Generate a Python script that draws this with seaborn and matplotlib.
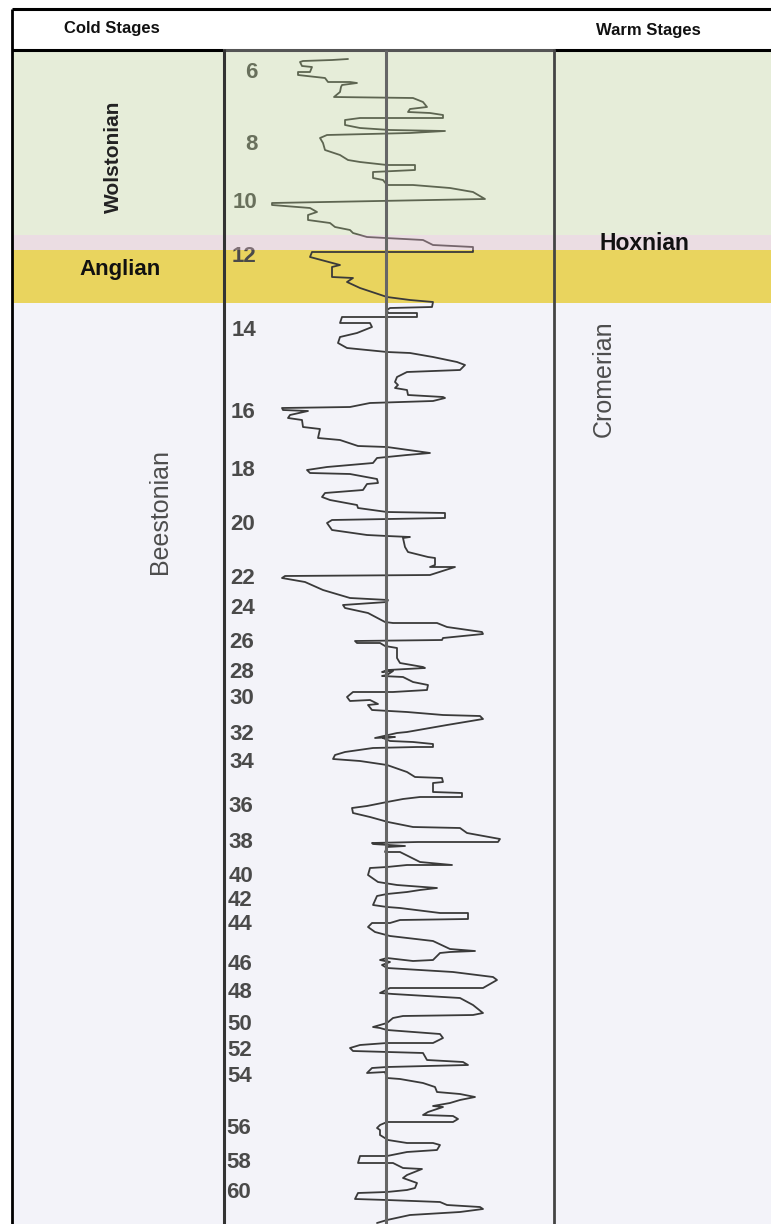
import numpy as np
import pandas as pd
import matplotlib
matplotlib.use("Agg")
import matplotlib.pyplot as plt
import seaborn as sns

# ---------------- data ----------------
# oxygen-isotope style curve: (depth, value) pairs; value = offset from the centre line
wolstonian_depth = [59, 60, 61, 62, 66, 67, 72, 72, 75, 78, 82, 82, 83, 85, 87, 92, 97, 98, 102, 107, 109, 112,
                    113, 115, 118, 118, 120, 125, 128, 130, 131, 133, 135, 138, 143, 150, 155, 160, 162, 165, 165,
                    170, 172, 178, 180, 185, 185, 188, 192, 199]
wolstonian_x = [348, 332, 303, 300, 302, 312, 310, 298, 298, 325, 328, 350, 357, 342, 341, 340, 334, 413, 423, 427,
                410, 408, 430, 443, 443, 360, 345, 345, 360, 390, 445, 410, 327, 320, 323, 325, 340, 348, 360, 387,
                415, 415, 373, 373, 383, 387, 413, 450, 473, 485]

anglian_depth = [203, 205, 208, 212, 215, 220, 223, 227, 230, 233, 237, 238, 240, 245, 247, 252, 252, 257, 265, 267,
                 277, 278, 282, 288, 297, 300, 302, 307, 308, 310, 313, 313, 317, 317, 323, 323, 327, 333]
anglian_x = [272, 272, 310, 317, 308, 308, 330, 335, 350, 353, 367, 385, 423, 433, 473, 473, 312, 310, 340, 332,
             332, 353, 347, 360, 387, 410, 433, 432, 390, 387, 388, 417, 417, 342, 340, 370, 372, 357]

cromer_a_depth = [337, 343, 348, 352, 353, 357, 362, 365, 370, 372, 377, 382, 385, 388, 390, 395, 397, 398, 401, 402,
                  403, 407, 408, 410, 411, 415, 418, 420, 427, 429, 438, 440, 446, 447, 453, 455, 458, 463, 467, 470]
cromer_a_x = [340, 338, 347, 387, 410, 433, 457, 465, 460, 407, 397, 395, 398, 395, 407, 408, 443, 445, 433, 403,
              370, 350, 282, 283, 308, 290, 288, 302, 303, 320, 318, 340, 358, 387, 430, 407, 377, 373, 327, 307]

cromer_b_depth = [473, 474, 479, 483, 484, 490, 493, 497, 500, 505, 508, 512, 513, 518, 520, 523, 530, 535, 536, 537,
                  538, 547, 552, 557, 558, 565, 567, 567, 575, 576, 578, 582, 590, 598, 600, 602, 605, 608]
cromer_b_x = [310, 350, 377, 378, 367, 363, 325, 322, 330, 357, 358, 387, 445, 445, 332, 327, 332, 367, 387, 410,
              403, 405, 408, 428, 435, 435, 430, 455, 430, 285, 282, 305, 323, 350, 388, 387, 343, 345]

cromer_c_depth = [613, 622, 623, 623, 627, 632, 634, 638, 640, 641, 643, 643, 646, 648, 658, 663, 667, 668, 670, 672,
                  671, 675, 676, 677, 682, 685, 690, 692, 692, 697, 701, 700, 704, 705, 710, 712, 715, 716, 719, 725,
                  732, 733, 738, 737, 738, 741, 742, 744, 747, 747, 748]
cromer_c_x = [368, 385, 393, 437, 447, 482, 483, 443, 442, 355, 357, 380, 385, 397, 397, 400, 423, 425, 388, 382,
              393, 387, 382, 403, 413, 428, 427, 393, 353, 347, 350, 370, 378, 368, 372, 407, 443, 480, 483, 447,
              407, 397, 375, 395, 383, 390, 413, 433, 433, 417, 373]

cromer_d_depth = [752, 755, 759, 761, 765, 772, 777, 778, 782, 783, 792, 793, 797, 797, 799, 802, 806, 808, 813, 817,
                  822, 827, 828, 833, 839, 842, 842, 843, 844, 846, 847, 852, 852, 862, 865, 865, 867, 868, 875, 882,
                  885, 888, 890, 892, 894]
cromer_d_x = [345, 335, 333, 360, 387, 407, 415, 442, 443, 433, 433, 462, 462, 420, 403, 387, 367, 352, 353, 370,
              388, 413, 460, 467, 500, 498, 418, 372, 373, 405, 387, 385, 400, 420, 452, 407, 387, 370, 368, 378,
              397, 437, 420, 407, 387]

cromer_e_depth = [896, 905, 907, 908, 913, 913, 919, 920, 923, 923, 927, 932, 936, 941, 949, 951, 952, 953, 960, 961,
                  958, 960, 962, 965, 968, 972, 977, 980, 988, 988, 993, 994, 998, 1005, 1013, 1015, 1016, 1018,
                  1023, 1027, 1028, 1030, 1032, 1034, 1038]
cromer_e_x = [377, 373, 387, 400, 440, 468, 468, 400, 390, 372, 368, 375, 390, 433, 450, 475, 450, 440, 433, 413,
              387, 380, 390, 382, 387, 453, 493, 497, 483, 390, 380, 393, 460, 473, 483, 473, 403, 393, 387, 373,
              380, 387, 413, 440, 443]

cromer_f_depth = [1043, 1043, 1045, 1048, 1051, 1052, 1053, 1060, 1062, 1065, 1067, 1068, 1073, 1072, 1078, 1079,
                  1083, 1087, 1092, 1094, 1097, 1100, 1103, 1106, 1107, 1112, 1115, 1116, 1119, 1122, 1122, 1125,
                  1128, 1130, 1135, 1140, 1143, 1143, 1145, 1150, 1152, 1156, 1156, 1163, 1163, 1163, 1168, 1169,
                  1175, 1178, 1183, 1188, 1190, 1192, 1193, 1199, 1200, 1202, 1205, 1207, 1209, 1212, 1215, 1220,
                  1223]
cromer_f_x = [433, 387, 360, 350, 353, 387, 423, 427, 463, 468, 387, 372, 367, 385, 387, 400, 423, 435, 437, 460,
              475, 460, 450, 433, 443, 428, 423, 453, 458, 453, 387, 380, 377, 380, 380, 388, 407, 433, 440, 437,
              407, 387, 360, 358, 387, 393, 403, 422, 407, 403, 417, 415, 407, 387, 358, 355, 387, 440, 447, 480,
              483, 460, 410, 387, 377]

mis_labels = [6, 8, 10, 12, 14, 16, 18, 20, 22, 24, 26, 28, 30, 32, 34, 36, 38, 40, 42, 44, 46, 48, 50, 52, 54,
              56, 58, 60]
mis_depths = [72, 145, 203, 256, 330, 412, 470, 525, 579, 609, 643, 672, 699, 735, 762, 806, 843, 877, 901, 924,
              964, 993, 1025, 1051, 1077, 1128, 1162, 1192]

CENTER = 386
depth = (wolstonian_depth + anglian_depth + cromer_a_depth + cromer_b_depth + cromer_c_depth
         + cromer_d_depth + cromer_e_depth + cromer_f_depth)
xpix = (wolstonian_x + anglian_x + cromer_a_x + cromer_b_x + cromer_c_x + cromer_d_x + cromer_e_x + cromer_f_x)
curve = pd.DataFrame({"depth": depth, "value": np.array(xpix) - CENTER})

# ---------------- figure ----------------
sns.set_style("white")
plt.rcParams["font.family"] = ["Liberation Sans", "DejaVu Sans"]

W, H = 771, 1224
fig = plt.figure(figsize=(W / 100, H / 100), dpi=100)
ax = fig.add_axes([0, 0, 1, 1])

L = 12
fx = L / W
# background bands (underneath)
ax.axhspan(303, H, xmin=fx, xmax=1, color="#f3f3f9", lw=0, zorder=0)
ax.axhspan(250, 303, xmin=fx, xmax=1, color="#e9d45e", lw=0, zorder=0)

# curve
sns.lineplot(x=curve["value"] + CENTER, y=curve["depth"], sort=False, estimator=None,
             ax=ax, color="#3a3a3a", lw=1.3, zorder=2)
ax.set_xlim(0, W)
ax.set_ylim(H, 0)
ax.axis("off")

# MIS stage numbers
for lab, d in zip(mis_labels, mis_depths):
    xr = 258 - (d - 72) * 7 / 1120
    ax.text(xr, d, str(lab), ha="right", va="center", fontsize=16, fontweight="bold",
            color="#4a4a4a", zorder=2)

# translucent overlays (on top of curve)
ax.axhspan(52, 235, xmin=fx, xmax=1, color=(175 / 255, 200 / 255, 134 / 255), alpha=0.31, lw=0, zorder=3)
ax.axhspan(235, 250, xmin=fx, xmax=1, color=(207 / 255, 170 / 255, 185 / 255), alpha=0.40, lw=0, zorder=3)

# frame lines
ax.plot([L, W], [9, 9], color="black", lw=2.2, zorder=4, solid_capstyle="butt")
ax.plot([L, L], [9, H], color="black", lw=2.0, zorder=4, solid_capstyle="butt")
ax.plot([L, 223], [50, 50], color="black", lw=2.2, zorder=4, solid_capstyle="butt")
ax.plot([554, W], [50, 50], color="black", lw=2.2, zorder=4, solid_capstyle="butt")
ax.plot([223, 555], [50, 50], color="#555555", lw=2.2, zorder=4, solid_capstyle="butt")
ax.plot([224, 224], [49, H], color="#333333", lw=2.2, zorder=4, solid_capstyle="butt")
ax.plot([554, 554], [49, H], color="#444444", lw=2.0, zorder=4, solid_capstyle="butt")
ax.plot([CENTER, CENTER], [50, H], color="#666666", lw=2.2, zorder=4, solid_capstyle="butt")

# stage texts
narrow = ["Liberation Sans Narrow", "Liberation Sans", "DejaVu Sans"]
ax.text(112, 29, "Cold Stages", ha="center", va="center", fontsize=12, fontweight="bold",
        family=narrow, color="#111111", zorder=5)
ax.text(648, 30, "Warm Stages", ha="center", va="center", fontsize=12, fontweight="bold",
        family=narrow, color="#111111", zorder=5)
ax.text(113, 157, "Wolstonian", ha="center", va="center", rotation=90, fontsize=15,
        fontweight="bold", color="#222222", zorder=5)
ax.text(120, 270, "Anglian", ha="center", va="center", fontsize=16, fontweight="bold",
        color="#111111", zorder=5)
ax.text(644, 243, "Hoxnian", ha="center", va="center", fontsize=16.5, fontweight="bold",
        color="#111111", zorder=5)
ax.text(604, 379, "Cromerian", ha="center", va="center", rotation=90, fontsize=18,
        color="#4d4d4d", zorder=5)
ax.text(160, 511, "Beestonian", ha="center", va="center", rotation=90, fontsize=18,
        color="#4d4d4d", zorder=5)

fig.savefig("out.png", dpi=100, facecolor="white")
